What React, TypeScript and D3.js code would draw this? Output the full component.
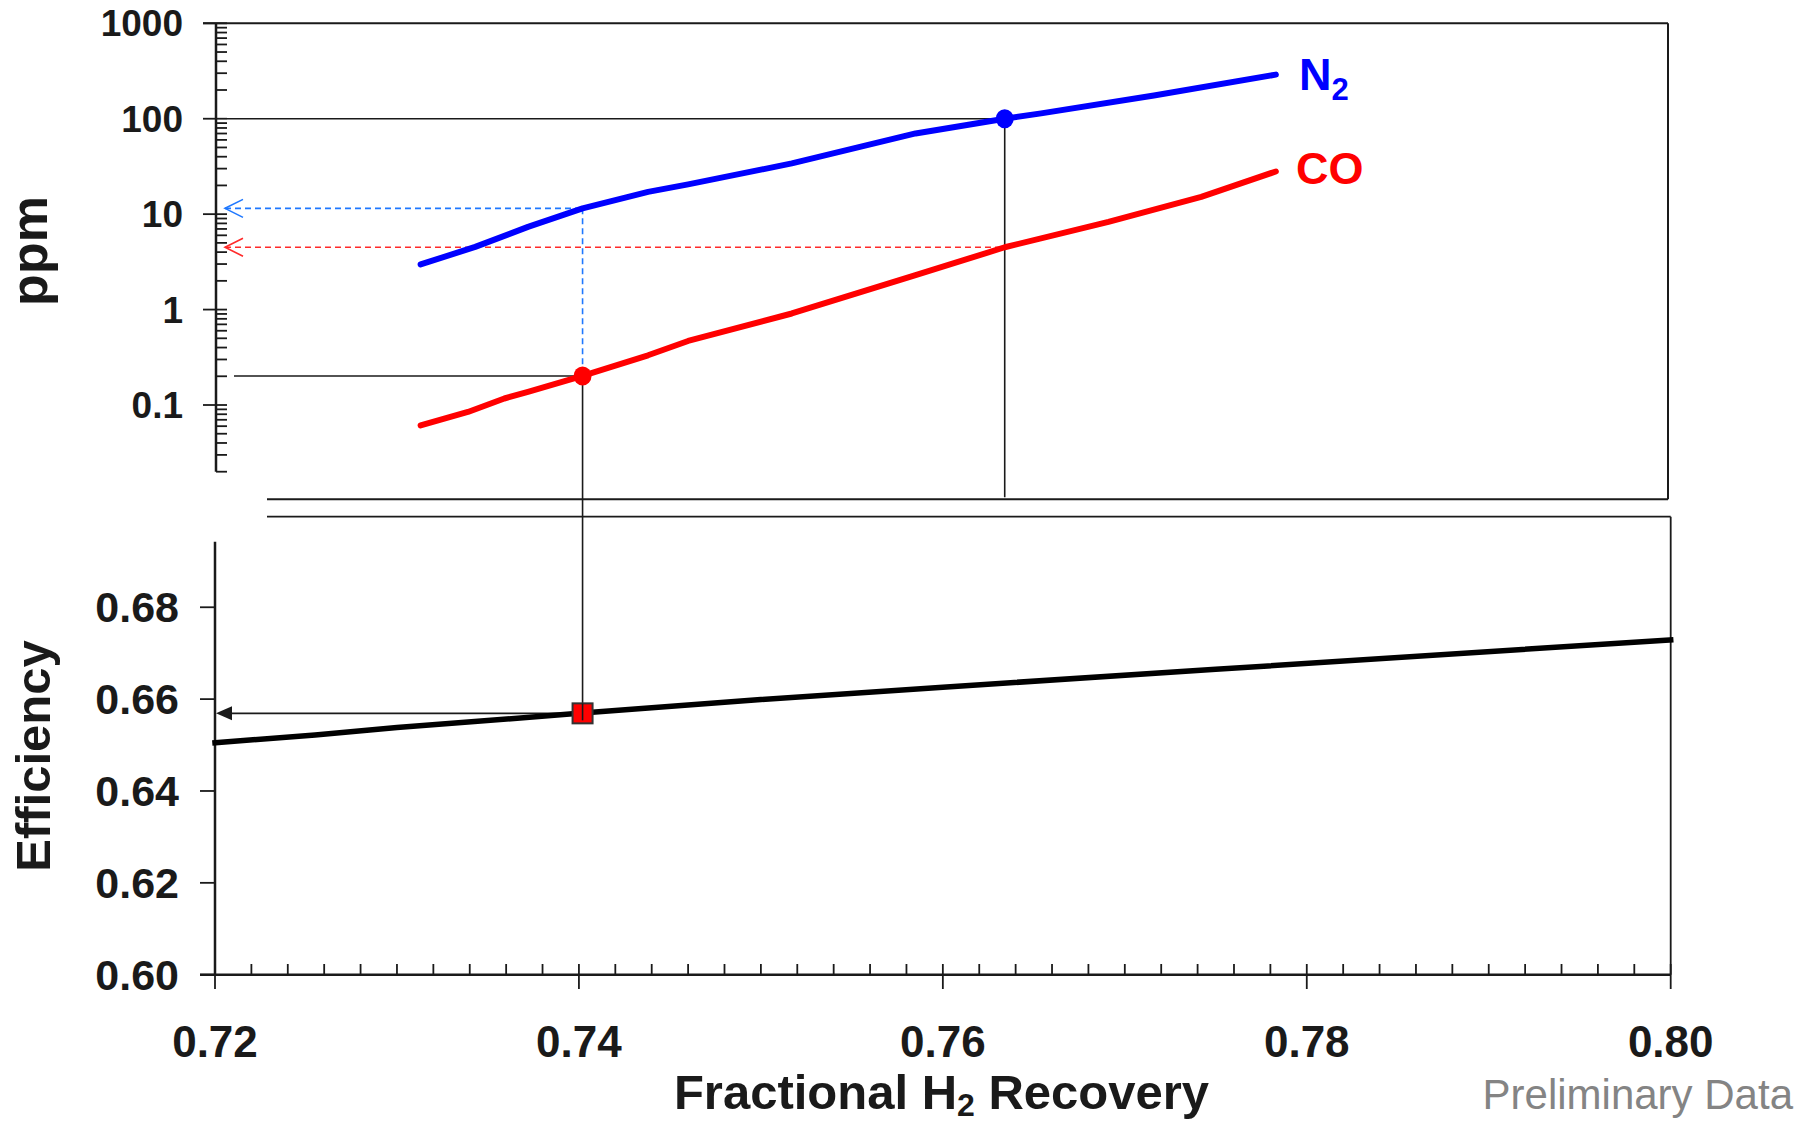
import React from "react";
import * as d3 from "d3";

// ---- Data ----
const n2X = [0.7313, 0.7343, 0.7372, 0.7402, 0.7438, 0.746, 0.7517, 0.7585, 0.7634, 0.7654, 0.7716, 0.7783];
const n2Ppm = [2.97, 4.54, 7.36, 11.5, 17.1, 20.5, 34.0, 70.1, 100, 113.8, 175, 290];

const coX = [0.7313, 0.7326, 0.7339, 0.7359, 0.7372, 0.7402, 0.7438, 0.746, 0.7517, 0.7585, 0.7634, 0.7691, 0.7742, 0.7783];
const coPpm = [0.0612, 0.0719, 0.0845, 0.117, 0.137, 0.2015, 0.332, 0.469, 0.91, 2.29, 4.5, 8.3, 15.2, 28];

const effX = [0.72, 0.7255, 0.73, 0.74, 0.75, 0.76, 0.775, 0.8];
const effVal = [0.6505, 0.6522, 0.6538, 0.6569, 0.6599, 0.6626, 0.6665, 0.6729];

// operating points
const n2PointX = 0.7634;
const n2PointPpm = 100;
const coPointX = 0.7402;
const coPointPpm = 0.2015;
const n2AtCoPoint = 11.5;
const coAtN2Point = 4.5;
const effAtCoPoint = 0.6569;

const xMajorTicks = [0.72, 0.74, 0.76, 0.78, 0.8];
const effTicks = [0.6, 0.62, 0.64, 0.66, 0.68];

const FONT = "'Liberation Sans', Arial, Helvetica, sans-serif";

export default function App() {
  const W = 1801;
  const H = 1124;

  const x = d3.scaleLinear().domain([0.72, 0.8]).range([215, 1670.7]);
  const yTop = d3.scaleLog().domain([0.02, 1000]).range([471.7, 23.3]);
  const yBot = d3.scaleLinear().domain([0.6, 0.7]).range([974.7, 515.4]);

  const topAxisX = 216;
  const topFrameRight = 1668;
  const topFrameBottom = 499.3;
  const botFrameTop = 516.7;
  const breakStartX = 267;
  const botAxisX = 215;
  const botAxisTop = 541.7;

  const lineTop = d3
    .line<[number, number]>()
    .x((d) => x(d[0]))
    .y((d) => yTop(d[1]));
  const lineBot = d3
    .line<[number, number]>()
    .x((d) => x(d[0]))
    .y((d) => yBot(d[1]));

  const n2Data = n2X.map((v, i) => [v, n2Ppm[i]] as [number, number]);
  const coData = coX.map((v, i) => [v, coPpm[i]] as [number, number]);
  const effData = effX.map((v, i) => [v, effVal[i]] as [number, number]);

  const logTicks = yTop.ticks();
  const isMajor = (t: number) => Math.abs(Math.log10(t) - Math.round(Math.log10(t))) < 1e-6;

  const xMinor = x.ticks(40).filter((t) => !xMajorTicks.some((m) => Math.abs(m - t) < 1e-6));

  const fmt2 = d3.format(".2f");
  const fmtLog = (t: number) => (t < 1 ? String(+t.toFixed(2)) : String(Math.round(t)));

  const ink = "#1a1a1a";
  const blueDash = "#1f78ff";
  const redDash = "#ff2a2a";

  const n2px = x(n2PointX);
  const n2py = yTop(n2PointPpm);
  const copx = x(coPointX);
  const copy = yTop(coPointPpm);
  const effpy = yBot(effAtCoPoint);
  const arrowTipX = topAxisX + 9;
  const yN2Read = yTop(n2AtCoPoint);
  const yCoRead = yTop(coAtN2Point);

  return (
    <svg
      width={W}
      height={H}
      viewBox={`0 0 ${W} ${H}`}
      style={{ position: "absolute", left: 0, top: 0, background: "#fff" }}
      fontFamily={FONT}
    >
      <rect x={0} y={0} width={W} height={H} fill="#fff" />

      {/* ---------- Upper panel frame ---------- */}
      <line x1={203} x2={topFrameRight} y1={yTop(1000)} y2={yTop(1000)} stroke={ink} strokeWidth={2} />
      <line x1={topFrameRight} x2={topFrameRight} y1={yTop(1000)} y2={topFrameBottom} stroke={ink} strokeWidth={2} />
      <line x1={breakStartX} x2={topFrameRight} y1={topFrameBottom} y2={topFrameBottom} stroke={ink} strokeWidth={2} />

      {/* upper y axis */}
      <line x1={topAxisX} x2={topAxisX} y1={yTop(1000)} y2={yTop(0.02)} stroke={ink} strokeWidth={2.5} />
      {logTicks.map((t, i) => (
        <line
          key={"lt" + i}
          x1={isMajor(t) ? 203 : topAxisX}
          x2={227}
          y1={yTop(t)}
          y2={yTop(t)}
          stroke={ink}
          strokeWidth={1.8}
        />
      ))}
      {logTicks.filter(isMajor).map((t, i) => (
        <text
          key={"ll" + i}
          x={183}
          y={yTop(t) + 13}
          textAnchor="end"
          fontSize={37}
          fontWeight="bold"
          fill={ink}
        >
          {fmtLog(t)}
        </text>
      ))}

      {/* ---------- Lower panel frame ---------- */}
      <line x1={breakStartX} x2={x(0.8)} y1={botFrameTop} y2={botFrameTop} stroke={ink} strokeWidth={1.8} />
      <line x1={x(0.8)} x2={x(0.8)} y1={botFrameTop} y2={yBot(0.6)} stroke={ink} strokeWidth={1.8} />
      <line x1={botAxisX} x2={botAxisX} y1={botAxisTop} y2={yBot(0.6)} stroke={ink} strokeWidth={2.5} />
      <line x1={200} x2={x(0.8)} y1={yBot(0.6)} y2={yBot(0.6)} stroke={ink} strokeWidth={2.5} />

      {effTicks.map((t, i) => (
        <g key={"et" + i}>
          <line x1={200} x2={botAxisX} y1={yBot(t)} y2={yBot(t)} stroke={ink} strokeWidth={1.8} />
          <text x={179} y={yBot(t) + 15} textAnchor="end" fontSize={43} fontWeight="bold" fill={ink}>
            {fmt2(t)}
          </text>
        </g>
      ))}

      {xMinor.map((t, i) => (
        <line key={"xm" + i} x1={x(t)} x2={x(t)} y1={yBot(0.6) - 10.7} y2={yBot(0.6)} stroke={ink} strokeWidth={1.8} />
      ))}
      {xMajorTicks.map((t, i) => (
        <g key={"xM" + i}>
          <line x1={x(t)} x2={x(t)} y1={yBot(0.6) - 10.7} y2={yBot(0.6) + 14.3} stroke={ink} strokeWidth={1.8} />
          <text x={x(t)} y={1057} textAnchor="middle" fontSize={44} fontWeight="bold" fill={ink}>
            {fmt2(t)}
          </text>
        </g>
      ))}

      {/* ---------- Guide lines ---------- */}
      {/* 100 ppm guide */}
      <line x1={227} x2={n2px} y1={n2py} y2={n2py} stroke={ink} strokeWidth={1.6} />
      <line x1={n2px} x2={n2px} y1={n2py} y2={topFrameBottom - 2} stroke={ink} strokeWidth={1.6} />
      {/* 0.2 ppm guide */}
      <line x1={234} x2={copx} y1={copy} y2={copy} stroke={ink} strokeWidth={1.6} />
      <line x1={copx} x2={copx} y1={copy} y2={effpy + 7} stroke={ink} strokeWidth={1.6} />

      {/* blue dashed readout */}
      <line x1={arrowTipX} x2={copx} y1={yN2Read} y2={yN2Read} stroke={blueDash} strokeWidth={1.6} strokeDasharray="6,4" />
      <line x1={copx} x2={copx} y1={yN2Read} y2={copy} stroke={blueDash} strokeWidth={1.6} strokeDasharray="6,4" />
      <path
        d={`M${arrowTipX + 18},${yN2Read - 9} L${arrowTipX},${yN2Read} L${arrowTipX + 18},${yN2Read + 9}`}
        fill="none"
        stroke={blueDash}
        strokeWidth={1.6}
      />
      {/* red dashed readout */}
      <line x1={arrowTipX} x2={n2px} y1={yCoRead} y2={yCoRead} stroke={redDash} strokeWidth={1.6} strokeDasharray="6,4" />
      <path
        d={`M${arrowTipX + 18},${yCoRead - 9} L${arrowTipX},${yCoRead} L${arrowTipX + 18},${yCoRead + 9}`}
        fill="none"
        stroke={redDash}
        strokeWidth={1.6}
      />

      {/* efficiency readout arrow */}
      <line x1={botAxisX + 15} x2={copx} y1={effpy} y2={effpy} stroke={ink} strokeWidth={1.6} />
      <path
        d={`M${botAxisX + 1},${effpy} L${botAxisX + 17},${effpy - 7} L${botAxisX + 17},${effpy + 7} Z`}
        fill={ink}
      />

      {/* ---------- Data lines ---------- */}
      <path d={lineTop(n2Data) || ""} fill="none" stroke="#0000ff" strokeWidth={6} strokeLinecap="round" strokeLinejoin="round" />
      <path d={lineTop(coData) || ""} fill="none" stroke="#ff0000" strokeWidth={6} strokeLinecap="round" strokeLinejoin="round" />
      <path d={lineBot(effData) || ""} fill="none" stroke="#000" strokeWidth={5.5} strokeLinecap="square" strokeLinejoin="round" />

      {/* markers */}
      <ellipse cx={n2px} cy={n2py} rx={9} ry={9.5} fill="#0000ff" />
      <ellipse cx={copx} cy={copy} rx={9} ry={9.5} fill="#ff0000" />
      <rect x={copx - 10} y={effpy - 10} width={20} height={20} fill="#ff0000" stroke="#333" strokeWidth={2} />
      <line x1={copx} x2={copx} y1={effpy - 10} y2={effpy + 7} stroke={ink} strokeWidth={1.6} />

      {/* series labels */}
      <text x={1299} y={89.5} fontSize={45} fontWeight="bold" fill="#0000ff">
        N
        <tspan fontSize={31} dy={10.5}>2</tspan>
      </text>
      <text x={1296} y={183.7} fontSize={45} fontWeight="bold" fill="#ff0000">
        CO
      </text>

      {/* axis titles */}
      <text
        transform={`translate(46.5, 251) rotate(-90)`}
        textAnchor="middle"
        fontSize={52}
        fontWeight="bold"
        fill={ink}
      >
        ppm
      </text>
      <text
        transform={`translate(50, 756) rotate(-90)`}
        textAnchor="middle"
        fontSize={49}
        fontWeight="bold"
        fill={ink}
      >
        Efficiency
      </text>
      <text x={941.5} y={1109} textAnchor="middle" fontSize={49} fontWeight="bold" fill={ink}>
        Fractional H
        <tspan fontSize={32} dy={7}>2</tspan>
        <tspan dy={-7}> Recovery</tspan>
      </text>
      <text x={1793} y={1108.5} textAnchor="end" fontSize={42} fill="#848484">
        Preliminary Data
      </text>
    </svg>
  );
}
